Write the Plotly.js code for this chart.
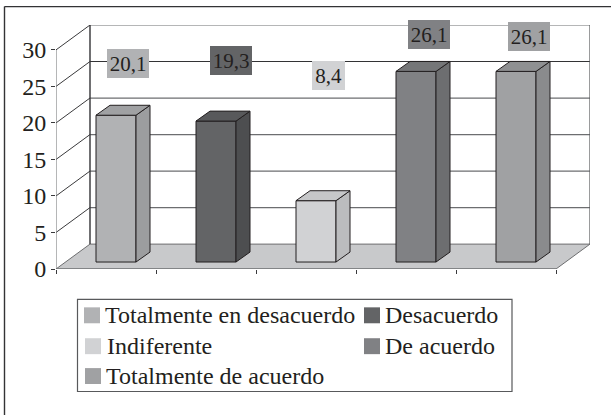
<!DOCTYPE html>
<html>
<head>
<meta charset="utf-8">
<script src="https://cdn.plot.ly/plotly-3.0.1.min.js"></script>
<style>html,body{margin:0;padding:0;background:#fff}</style>
</head>
<body>
<div id="chart" style="width:611px;height:416px"></div>
<script>
// ---- data ----
const categories = ["Totalmente en desacuerdo", "Desacuerdo", "Indiferente", "De acuerdo", "Totalmente de acuerdo"];
const values = [20.1, 19.3, 8.4, 26.1, 26.1];
const valueLabels = ["20,1", "19,3", "8,4", "26,1", "26,1"];
const yTicks = [0, 5, 10, 15, 20, 25, 30];

// ---- styles ----
const frontColors = ["#b1b2b4", "#636466", "#d1d2d4", "#808184", "#a0a1a3"];
const sideColors  = ["#9c9d9f", "#4d4e50", "#bbbcbe", "#6d6e70", "#8a8b8d"];
const topColors   = ["#a0a1a3", "#58595b", "#c6c7c9", "#757678", "#8f9092"];
const labelCenterX = [0.72, 1.75, 2.725, 3.73, 4.73];
const labelCenterY = [28.09, 28.5, 26.45, 32.1, 31.77];
const labelWidths = [42, 42, 33, 42, 42];
const keyLeft = [84, 364, 85, 364, 85];
const keyTop = [308, 308, 339, 339, 369];
const keyTextLeft = [105, 385, 106.5, 385, 106];

const INK = "#231f20";
const PXX = 100, PXY = 220 / 30;            // pixels per axis unit
const depthX = 0.34, depthY = 25 / PXY;     // wall depth in axis units
const barBase = 7 / PXY, barCentre = 0.6, barW = 0.4;
const barDepthX = 0.14, barDepthY = 10 / PXY;
const L = 56, R = 21, T = 24.5, B = 146.5, W = 611, H = 416;
const plotW = W - L - R, plotH = H - T - B;

const paperX = p => (p - L) / plotW;
const paperY = p => (H - B - p) / plotH;

const shapes = [];
const seg = (x0, y0, x1, y1, color, width) => shapes.push({
  type: "line", layer: "below", xref: "x", yref: "y", x0, y0, x1, y1, line: {color, width}
});
// floor
shapes.push({
  type: "path", layer: "below", xref: "x", yref: "y",
  path: `M0,0L${depthX},${depthY}L${5 + depthX},${depthY}L5,0Z`,
  fillcolor: "#c8c9cb", line: {color: "#6d6e70", width: 1}
});
// walls and gridlines
yTicks.forEach(v => {
  if (v > 0) {
    seg(0, v, depthX, v + depthY, "#3a3a3c", 1);
    seg(depthX, v + depthY, 5 + depthX, v + depthY, v === 25 ? "#333335" : "#6d6e70", 1.2);
  }
});
seg(depthX, depthY, depthX, 30 + depthY, "#333335", 1.4);
seg(5 + depthX, depthY, 5 + depthX, 30 + depthY, "#58595b", 1.2);
seg(0, 0, 0, 30, "#6d6e70", 1);
seg(0, 0, 5, 0, "#6d6e70", 1.2);
// outer frame
shapes.push({type: "line", xref: "paper", yref: "paper",
  x0: paperX(4.5), y0: paperY(6), x1: paperX(611), y1: paperY(6), line: {color: "#333335", width: 1.4}});
shapes.push({type: "line", xref: "paper", yref: "paper",
  x0: paperX(4.5), y0: paperY(6), x1: paperX(4.5), y1: paperY(416), line: {color: "#333335", width: 1.4}});
// key frame and key swatches
shapes.push({type: "rect", layer: "below", xref: "paper", yref: "paper",
  x0: paperX(77.5), y0: paperY(300), x1: paperX(512), y1: paperY(392.5),
  fillcolor: "#fff", line: {color: "#58595b", width: 1.2}});
categories.forEach((c, i) => shapes.push({type: "rect", xref: "paper", yref: "paper",
  x0: paperX(keyLeft[i]), x1: paperX(keyLeft[i] + 16), y0: paperY(keyTop[i]), y1: paperY(keyTop[i] + 16),
  fillcolor: frontColors[i], line: {width: 0}}));

const traces = [];
// front faces
categories.forEach((c, i) => traces.push({
  type: "bar", name: c, x: [i + barCentre], y: [values[i]], base: [barBase], width: [barW],
  marker: {color: frontColors[i], line: {color: INK, width: 1}},
  showlegend: false, hoverinfo: "skip"
}));
// side and top faces
const face = (xs, ys, color) => traces.push({
  type: "scatter", mode: "lines", x: xs, y: ys, fill: "toself", fillcolor: color,
  line: {color: INK, width: 1}, showlegend: false, hoverinfo: "skip", cliponaxis: false
});
categories.forEach((c, i) => {
  const x0 = i + barCentre - barW / 2, x1 = x0 + barW, t = barBase + values[i];
  const dx = barDepthX, dy = barDepthY;
  face([x1, x1 + dx, x1 + dx, x1, x1], [barBase, barBase + dy, t + dy, t, barBase], sideColors[i]);
  face([x0, x0 + dx, x1 + dx, x1, x0], [t, t + dy, t + dy, t, t], topColors[i]);
});

const annotations = categories.map((c, i) => ({
  xref: "x", yref: "y", x: labelCenterX[i], y: labelCenterY[i],
  text: valueLabels[i], showarrow: false, xanchor: "center", yanchor: "middle",
  bgcolor: frontColors[i], width: labelWidths[i], height: 29, borderpad: 0, borderwidth: 0,
  font: {family: "Liberation Serif", size: 21, color: INK}
})).concat(categories.map((c, i) => ({
  xref: "paper", yref: "paper", x: paperX(keyTextLeft[i]), y: paperY(keyTop[i] + 8),
  text: c, showarrow: false, xanchor: "left", yanchor: "middle", borderpad: 0, borderwidth: 0,
  font: {family: "Liberation Serif", size: 24, color: INK}
})));

const layout = {
  width: W, height: H, paper_bgcolor: "#fff", plot_bgcolor: "rgba(0,0,0,0)",
  margin: {l: L, r: R, t: T, b: B, pad: 0},
  font: {family: "Liberation Serif", color: INK},
  barmode: "overlay",
  xaxis: {range: [0, 5 + depthX], tickvals: [0, 1, 2, 3, 4, 5], ticktext: ["", "", "", "", "", ""],
    ticks: "outside", ticklen: 4, tickcolor: "#3a3a3c", tickwidth: 1, showgrid: false, zeroline: false, showline: false, fixedrange: true},
  yaxis: {range: [0, plotH / PXY], tickvals: yTicks, ticks: "outside", ticklen: 4, tickcolor: "#3a3a3c", tickwidth: 1,
    showgrid: false, zeroline: false, showline: false, fixedrange: true,
    tickfont: {family: "Liberation Serif", size: 24, color: INK}},
  showlegend: false,
  shapes, annotations
};

Plotly.newPlot("chart", traces, layout, {displayModeBar: false, staticPlot: true});
</script>
</body>
</html>
